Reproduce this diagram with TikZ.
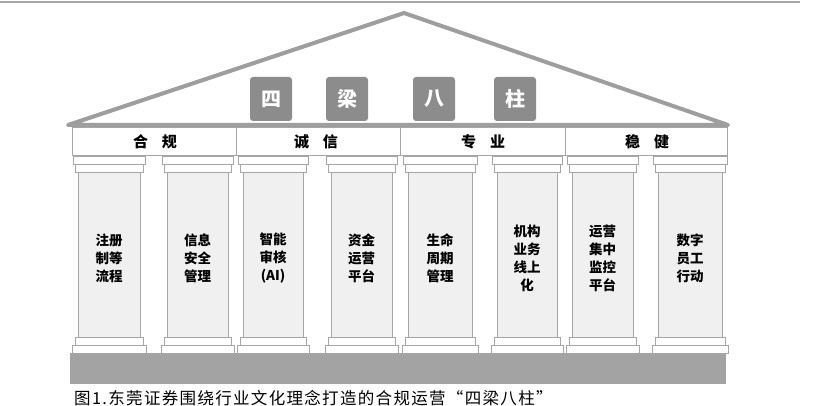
\documentclass[tikz,border=0pt]{standalone}
\usepackage{fontspec}
\newfontfamily\cjk{Noto Sans CJK SC}
\newfontfamily\cjkcap[LetterSpace=8]{Noto Sans CJK SC}
\definecolor{roofc}{HTML}{9E9E9E}
\definecolor{linec}{HTML}{A6A6A6}
\definecolor{shaftc}{HTML}{F0F0F0}
\definecolor{tilec}{HTML}{8C8C8C}
\definecolor{basec}{HTML}{A3A3A3}
\tikzset{
  roofline/.style={draw=roofc, line width=4pt, line join=round, fill=white},
  colline/.style={draw=linec, line width=0.8pt},
  tile/.style={fill=tilec, rounded corners=3pt, minimum width=42pt, minimum height=44pt, inner sep=0pt, text=white, font=\cjk\bfseries\fontsize{20}{20}\selectfont},
  beamtext/.style={font=\cjk\bfseries\fontsize{15}{15}\selectfont, inner sep=0pt},
  pillartext/.style={font=\cjk\bfseries\fontsize{13.5}{18}\selectfont, align=center, inner sep=0pt},
  captext/.style={font=\cjkcap\fontsize{16.5}{17}\selectfont, anchor=west, inner sep=0pt}
}
\begin{document}
\begin{tikzpicture}[x=1pt,y=-1pt]
\useasboundingbox (0,0) rectangle (824,406);
\fill[white] (0,0) rectangle (824,406);
% top rule
\coordinate (tl) at (0,2);
\coordinate (tr) at (800,2);
\draw[linec, line width=1.5pt] (tl) -- (tr);
% roof
\coordinate (rl) at (68,125);
\coordinate (ra) at (404,13);
\coordinate (rr) at (728,125);
\draw[roofline] (rl) -- (ra) -- (rr) -- cycle;
% tiles
\node[tile] (t1) at (271,99) {四};
\node[tile] (t2) at (347,99) {梁};
\node[tile] (t3) at (434,99) {八};
\node[tile] (t4) at (515,99) {柱};
% beam
\draw[colline, fill=white] (72,127) rectangle (727,155);
\foreach \x in {236,400,565}{\draw[colline] (\x,127) -- (\x,155);}
\node[beamtext] (b1) at (155,142) {合\hspace{14pt}规};
\node[beamtext] (b2) at (316,142) {诚\hspace{14pt}信};
\node[beamtext] (b3) at (483,142) {专\hspace{14pt}业};
\node[beamtext] (b4) at (647,142) {稳\hspace{14pt}健};
% platform
\fill[basec] (70,353) rectangle (726,384);
% pillars
\foreach \l/\r/\t [count=\i] in {
  78/140/{注册\\制等\\流程},
  167/228/{信息\\安全\\管理},
  243/303/{智能\\审核\\(AI)},
  331/392/{资金\\运营\\平台},
  408/472/{生命\\周期\\管理},
  497/557/{机构\\业务\\线上\\化},
  572/633/{运营\\集中\\监控\\平台},
  658/722/{数字\\员工\\行动}}{
  \draw[colline, fill=white] (\l-5,156) rectangle (\r+5,164);
  \draw[colline, fill=white] (\l-3,164) rectangle (\r+3,172);
  \draw[colline, fill=shaftc] (\l,172) rectangle (\r,337);
  \draw[colline, fill=white] (\l-3,337) rectangle (\r+3,345);
  \draw[colline, fill=white] (\l-6,345) rectangle (\r+6,353);
  \node[pillartext] (p\i) at ({(\l+\r)/2},258) {\t};
}
% caption
\node[captext] (cap) at (74,398) {图1.东莞证券围绕行业文化理念打造的合规运营“四梁八柱”};
\end{tikzpicture}
\end{document}
